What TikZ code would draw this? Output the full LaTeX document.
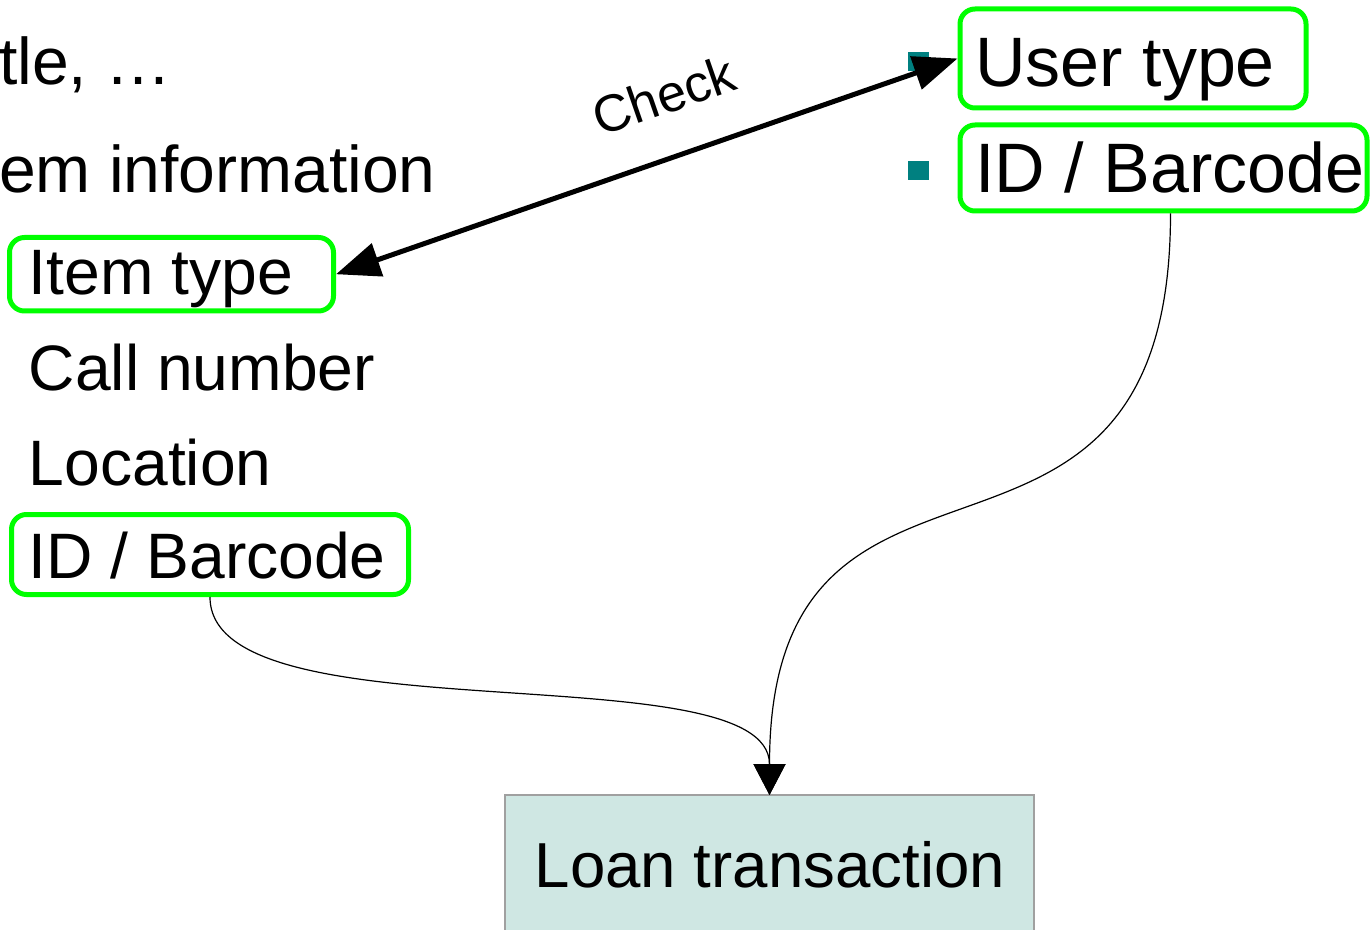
\documentclass[tikz,border=0pt]{standalone}
\usepackage{fontspec}
\setmainfont{Liberation Sans}
\usetikzlibrary{arrows.meta}

\definecolor{hlgreen}{HTML}{00FF00}
\definecolor{bulletteal}{HTML}{008080}
\definecolor{loanfill}{HTML}{CFE7E3}
\definecolor{loanedge}{HTML}{A0A0A0}

\tikzset{
  hlbox/.style={draw=hlgreen, line width=2.5pt, rounded corners=7.5pt,
    rectangle, inner sep=0pt},
  toptext/.style={inner sep=0pt, font=\fontsize{33}{40}\selectfont},
  subtext/.style={inner sep=0pt, anchor=base west, font=\fontsize{32.1}{38}\selectfont},
  usrtext/.style={inner sep=0pt, anchor=base west, font=\fontsize{35}{42}\selectfont},
  sqbullet/.style={fill=bulletteal, draw=none, rectangle, inner sep=0pt,
    minimum width=10.5pt, minimum height=9.5pt},
  checkarrow/.style={line width=2.5pt,
    {Triangle[length=22pt, width=17pt]}-{Triangle[length=22pt, width=17pt]}},
  flow/.style={line width=0.6pt, -{Triangle[length=15.5pt, width=16pt]}},
}

\begin{document}
\begin{tikzpicture}[x=0.5pt, y=-0.5pt]
  \useasboundingbox (0,0) rectangle (1370,930);
  \clip (0,0) rectangle (1370,930);

  % outline text, left column
  \node[toptext, anchor=base east] (ttl) at (172,85) {tle, …};
  \node[toptext, anchor=base east] (info) at (436,193) {em information};

  \node[hlbox, minimum width=162pt, minimum height=36.75pt] (itembox) at (171.5,274.25) {};
  \node[subtext] (itemtype) at (28.5,295) {Item type};
  \node[subtext] (callno) at (28.5,391) {Call number};
  \node[subtext] (loc) at (28.5,485) {Location};
  \node[hlbox, minimum width=198.5pt, minimum height=40pt] (idlbox) at (210,554.5) {};
  \node[subtext] (idl) at (28.5,578) {ID / Barcode};

  % user attributes, right column
  \node[sqbullet] (b1) at (918.5,61.5) {};
  \node[sqbullet] (b2) at (918.5,171) {};
  \node[hlbox, minimum width=173pt, minimum height=49.5pt] (usrbox) at (1133,58.5) {};
  \node[usrtext] (usrtype) at (975,87) {User type};
  \node[hlbox, minimum width=203.5pt, minimum height=43pt] (idrbox) at (1163.5,168) {};
  \node[usrtext] (idr) at (975,193) {ID / Barcode};

  % target box
  \node[rectangle, fill=loanfill, draw=loanedge, line width=0.6pt,
        minimum width=264.5pt, minimum height=85pt, inner sep=0pt,
        outer sep=0pt] (loanbox) at (769.5,880) {};
  \node[inner sep=0pt, anchor=base, font=\fontsize{31.8}{38}\selectfont]
        (loan) at (770,887) {Loan transaction};

  % connectors
  \draw[checkarrow] (itembox.east) -- (usrbox.west)
    node[pos=0.56, sloped, above=20pt, inner sep=0pt,
         font=\fontsize{26}{31}\selectfont] (chk) {Check};

  \draw[flow] (idlbox.south) .. controls +(0,143) and +(0,-145) .. (loanbox.north);
  \draw[flow] ([xshift=3.5pt]idrbox.south) .. controls +(0,429) and +(0,-415) .. (loanbox.north);
\end{tikzpicture}
\end{document}
